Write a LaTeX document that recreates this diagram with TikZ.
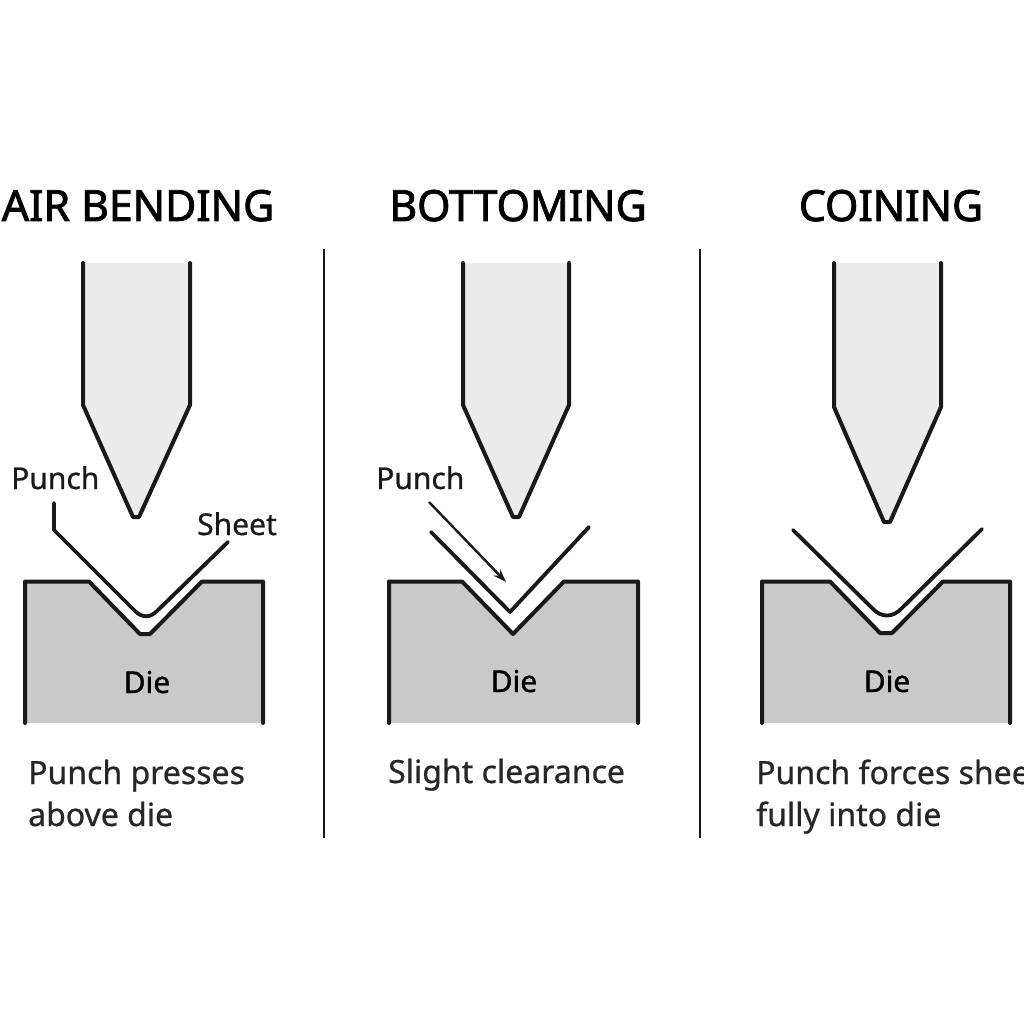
\documentclass[tikz,border=0pt]{standalone}
\usepackage{fontspec}
\setmainfont{Noto Sans}
\usetikzlibrary{arrows.meta}
\tikzset{
 titletext/.style={font=\fontsize{43}{50}\selectfont\addfontfeature{FakeBold=1.8,LetterSpace=-0.5}, anchor=base, inner sep=0},
 labeltext/.style={font=\fontsize{30}{36}\selectfont\addfontfeature{FakeBold=0.7}, anchor=base west, inner sep=0, text=black!90},
 captext/.style={font=\fontsize{32}{42}\selectfont\addfontfeature{FakeBold=0.7}, anchor=base west, inner sep=0, text=black!85},
 dietext/.style={font=\fontsize{30}{36}\selectfont\addfontfeature{FakeBold=1.2}, anchor=base, inner sep=0},
 punchfill/.style={fill=black!8, draw=none},
 diefill/.style={fill=black!21, draw=none},
 outline/.style={draw=black!90, line width=4pt, line join=round, line cap=round},
 sheetline/.style={draw=black!90, line width=3.8pt, line join=round, line cap=round},
 divider/.style={draw=black!90, line width=2.4pt},
}
\begin{document}
\begin{tikzpicture}[x=1pt,y=-1pt]
\useasboundingbox[clip] (0,0) rectangle (1024,1024);
\fill[white] (0,0) rectangle (1024,1024);

% dividers
\coordinate (d1t) at (324,249); \coordinate (d1b) at (324,838);
\coordinate (d2t) at (700,249); \coordinate (d2b) at (700,838);
\draw[divider] (d1t) -- (d1b);
\draw[divider] (d2t) -- (d2b);

% titles
\node[titletext] (t1) at (138,221) {AIR BENDING};
\node[titletext] (t2) at (518,221) {BOTTOMING};
\node[titletext] (t3) at (891,221) {COINING};

% punches
\fill[punchfill] (83,263) -- (83,405) -- (133,517) -- (139,517) -- (190,405) -- (190,263) -- cycle;
\draw[outline] (83,263) -- (83,405) -- (133,517) -- (139,517) -- (190,405) -- (190,263);
\fill[punchfill] (463,263) -- (463,405) -- (513,517) -- (519,517) -- (569,405) -- (569,263) -- cycle;
\draw[outline] (463,263) -- (463,405) -- (513,517) -- (519,517) -- (569,405) -- (569,263);
\fill[punchfill] (834,263) -- (834,407) -- (884,522) -- (890,522) -- (941,407) -- (941,263) -- cycle;
\draw[outline] (834,263) -- (834,407) -- (884,522) -- (890,522) -- (941,407) -- (941,263);

% dies
\fill[diefill] (25,582) -- (89,582) -- (140,634) -- (150,634) -- (202,582) -- (263,582) -- (263,723) -- (25,723) -- cycle;
\draw[outline] (25,723) -- (25,581.5) -- (89,581.5) -- (140,634) -- (150,634) -- (202,581.5) -- (263,581.5) -- (263,723);
\fill[diefill] (389,582) -- (462,582) -- (513,634) -- (564,582) -- (638,582) -- (638,723) -- (389,723) -- cycle;
\draw[outline] (389,723) -- (389,581.5) -- (462,581.5) -- (513,634) -- (564,581.5) -- (638,581.5) -- (638,723);
\fill[diefill] (762,582) -- (830,582) -- (880,633) -- (892,633) -- (943,582) -- (1010,582) -- (1010,723) -- (762,723) -- cycle;
\draw[outline] (762,723) -- (762,581.5) -- (830,581.5) -- (880,633) -- (892,633) -- (943,581.5) -- (1010,581.5) -- (1010,723);

% sheets
\draw[sheetline] (54,503) -- (54,530) -- (135,611) .. controls (142,618) and (150,618) .. (157,611) -- (228,542);
\draw[sheetline] (431,532) -- (510,612) -- (589,527);
\draw[sheetline] (793,530) -- (872,608) .. controls (881,618) and (893,618) .. (902,608) -- (982,529);

% arrow
\coordinate (a1) at (429,502); \coordinate (a2) at (506,582);
\draw[black!90, line width=2.4pt, -{Stealth[length=13pt,width=9pt]}] (a1) -- (a2);

% labels
\node[labeltext] (l1) at (11,489) {Punch};
\node[labeltext] (l2) at (197,535) {Sheet};
\node[labeltext] (l3) at (376,489) {Punch};
\node[dietext] (die1) at (147,693) {Die};
\node[dietext] (die2) at (514,692) {Die};
\node[dietext] (die3) at (887,692) {Die};

% captions
\node[captext] (c1a) at (28,784) {Punch presses};
\node[captext] (c1b) at (28,826) {above die};
\node[captext] (c2) at (388,783) {Slight clearance};
\node[captext] (c3a) at (756,784) {Punch forces sheet};
\node[captext] (c3b) at (756,826) {fully into die};
\end{tikzpicture}
\end{document}
